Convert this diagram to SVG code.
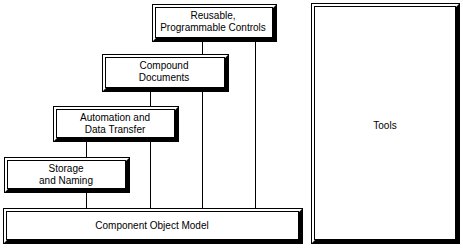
<svg xmlns="http://www.w3.org/2000/svg" width="463" height="249" viewBox="0 0 463 249">
<style>
.o{fill:#fff;stroke:#000;stroke-width:1}
.i{fill:none;stroke:#000;stroke-width:1}
.s{fill:#000}
.t{font-family:"Liberation Sans",Arial,sans-serif;font-size:10px;fill:#000;text-anchor:middle}
.c{stroke:#000;stroke-width:1;fill:none}
</style>
<rect width="463" height="249" fill="#fff"/>
<g id="connectors">
<line class="c" x1="255.5" y1="42" x2="255.5" y2="208"/>
<line class="c" x1="202.5" y1="42" x2="202.5" y2="54"/>
<line class="c" x1="202.5" y1="92" x2="202.5" y2="208"/>
<line class="c" x1="150.5" y1="92" x2="150.5" y2="106"/>
<line class="c" x1="150.5" y1="142" x2="150.5" y2="208"/>
<line class="c" x1="86.5" y1="142" x2="86.5" y2="157"/>
<line class="c" x1="86.5" y1="193" x2="86.5" y2="208"/>
</g>
<g id="reusable">
<rect class="o" x="152.5" y="4.5" width="124" height="37"/>
<polygon class="s" points="277,4 277,42 152,42 156,38 273,38 273,8"/>
<rect class="i" x="155.5" y="7.5" width="117" height="30"/>
<text class="t" x="213" y="19">Reusable,</text>
<text class="t" x="213" y="31">Programmable Controls</text>
</g>
<g id="compound">
<rect class="o" x="102.5" y="54.5" width="126" height="37"/>
<polygon class="s" points="229,54 229,92 102,92 106,88 225,88 225,58"/>
<rect class="i" x="105.5" y="57.5" width="119" height="30"/>
<text class="t" x="164" y="69">Compound</text>
<text class="t" x="164" y="81">Documents</text>
</g>
<g id="automation">
<rect class="o" x="53.5" y="106.5" width="125" height="35"/>
<polygon class="s" points="179,106 179,142 53,142 57,138 175,138 175,110"/>
<rect class="i" x="56.5" y="109.5" width="118" height="28"/>
<text class="t" x="115" y="121">Automation and</text>
<text class="t" x="115" y="133">Data Transfer</text>
</g>
<g id="storage">
<rect class="o" x="4.5" y="157.5" width="125" height="35"/>
<polygon class="s" points="130,157 130,193 4,193 8,189 126,189 126,161"/>
<rect class="i" x="7.5" y="160.5" width="118" height="28"/>
<text class="t" x="66" y="172">Storage</text>
<text class="t" x="66" y="184">and Naming</text>
</g>
<g id="com">
<rect class="o" x="3.5" y="208.5" width="299" height="35"/>
<polygon class="s" points="303,208 303,244 3,244 7,240 299,240 299,212"/>
<rect class="i" x="6.5" y="211.5" width="292" height="28"/>
<text class="t" x="152" y="229">Component Object Model</text>
</g>
<g id="tools">
<rect class="o" x="311.5" y="3.5" width="148" height="240"/>
<polygon class="s" points="460,3 460,244 311,244 315,240 456,240 456,7"/>
<rect class="i" x="314.5" y="6.5" width="141" height="233"/>
<text class="t" x="385" y="129">Tools</text>
</g>
</svg>
